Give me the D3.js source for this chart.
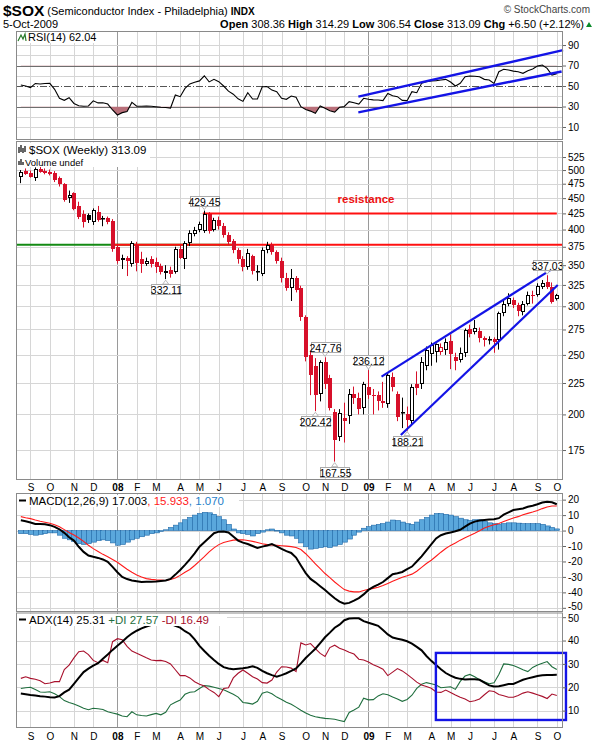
<!DOCTYPE html>
<html><head><meta charset="utf-8">
<script src="https://cdn.jsdelivr.net/npm/d3@7"></script>
<style>
body{margin:0;background:#fff}
svg{display:block}
text{font-family:"Liberation Sans",Arial,sans-serif}
</style>
</head><body>
<svg id="c" width="600" height="745"></svg>
<script>
// ---------------- DATA ----------------
const firstWeek = "2007-08-20";
const opens = [488,498,494,485,502,499,497,495,485,474,
 450,458,437,424,422,412,428,416,418,413,
 374,357,360,352,378,358,352,358,354,349,
 340,344,341,372,358,380,393,400,398,424,
 400,415,406,392,383,370,358,347,362,341,
 339,370,378,368,356,333,321,333,321,288,
 250,240,216,243,229,202,184,197,199,216,
 213,205,222,215,215,210,208,230,216,201,
 200,195,224,224,240,251,253,253,255,263,
 248,245,252,276,272,273,266,264,265,264,
 292,303,307,301,294,303,313,313,322,328,
 323,308.36];
const highs = [500,503,499,505,506,503,501,498,488,476,
 463,460,444,430,425,433,437,421,420,416,
 378,364,362,383,382,368,360,362,360,352,
 350,348,375,378,383,399,404,412,429.45,427,
 418,420,410,396,386,373,362,372,364,350,
 374,382,381,370,360,340,345,336,324,290,
 254,247,245,247.76,232,204,204,209,220,222,
 217,226,236.12,220,218,226,234,234,218,213,
 206,224,235,248,258,262,261,261,266,270,
 252,257,276,280,285,277,268,268,267,294,
 308,315,310,304,306,317,318,327,331,337.03,
 328,314.29];
const lows = [476,491,486,480,495,492,490,478,470,444,
 442,430,416,403,410,407,412,405,408,368,
 352,345,336,348,342,340,349,347,340,338,
 332.11,334,339,358,345,376,390,396,395,394,
 397,400,388,378,366,352,342,344,338,330,
 336,366,364,352,328,318,306,316,284,244,
 215,202.42,210,220,203,167.55,181,180,193,208,
 200,200,212,200,203,205,205,218,195,190,
 188.21,192,215,220,236,240,243,250,250,237,
 236,243,248,267,270,262,258,260,252,255,
 289,300,298,289,290,301,303,311,320,320,
 303,306.54];
const closes = [496,493,488,502,497,495,493,482,475,447,
 456,432,420,412,415,430,414,418,411,372,
 356,360,356,380,353,352,356,351,347,341,
 342,339,372,360,380,395,400,408,424,398,
 415,405,392,382,370,358,348,367,342,343,
 370,378,368,356,333,321,333,319,288,248,
 232,215,243,224,205,182,201,195,216,213,
 204,224,215,214,210,209,232,222,198,202,
 196,222,221,243,255,259,260,258,262,251,
 244,252,274,270,277,266,264,265,262,292,
 303,309,301,295,303,313,312,324,327,323,
 305,313.09];

const rsi = [51,50,48.5,52.5,52,52.5,52.6,46.8,38,36,
 38.6,33,30.8,30.2,30.5,35.5,33.5,33.7,32.4,26.6,
 21.7,24,25,34,30.2,30.3,30.5,30.2,29.8,29.3,
 29,28.5,41.2,39.6,47.7,52,53.6,55,60,54,
 56.5,54.2,50,45,42,37.5,35,43.5,37.3,37.3,
 49.3,49.5,46,44.5,38,37,40.2,39,29.8,27,
 25.5,23.3,30.5,28.2,25.9,24.6,29.2,30,34.7,33.7,
 32.4,38,37,36.5,36.3,35.7,42.8,40.5,39.6,36,
 35.7,44.5,43.5,52.6,54.2,55,55.2,55.9,56.5,53.9,
 50,52.6,59.1,59.8,59.5,59.1,56.5,55.9,52.6,64,
 66.3,65.6,64.5,64,62.4,64.9,66.6,69.5,70.5,67.2,
 60.7,62.04];

const macd = [6.6,6.0,5.2,4.3,4.2,4.1,3.5,2.4,0.8,-1.5,
 -4.3,-6.5,-10.5,-13.8,-16.2,-17,-17.7,-18.7,-20.2,-23.5,
 -27,-30,-31.4,-32.3,-32.8,-33.3,-33.2,-33.1,-32.9,-32.6,
 -32.3,-31.3,-28.5,-25.5,-22.2,-18.6,-14.8,-10.5,-7.6,-4.6,
 -1.7,-0.7,-0.6,-1.2,-3.8,-6.5,-7.8,-8.7,-10,-11.3,
 -10.4,-9.7,-8.8,-10.2,-11.8,-13.3,-14.5,-17.5,-22.6,-27.5,
 -31.3,-33.5,-36,-38.5,-41.2,-43.8,-46,-47.3,-46.8,-45.4,
 -43.7,-41.3,-38.4,-36.5,-35,-33.3,-30.8,-28.3,-27.6,-26.8,
 -25,-23.3,-20,-16.7,-12.8,-9,-5.1,-3,-1.9,-1.2,
 -0.5,0.5,2.5,4.5,5.8,6.5,6.9,7.1,7.3,8,
 10.3,11.8,13.3,13.8,14.3,15.4,16.1,17,18.1,18.7,
 18.3,17.003];
const macdSignal = [9.0,8.3,7.7,6.8,6.0,5.4,4.7,3.8,2.5,0.6,
 -1.3,-2.9,-4.8,-7,-9.5,-11.7,-13.5,-15.4,-16.9,-18.7,
 -20.5,-22.8,-25,-27,-28.7,-30,-31.1,-31.6,-31.9,-32.1,
 -32.3,-31.7,-30.7,-29,-27,-25.2,-22.6,-19.8,-16.9,-13.8,
 -11.2,-9.1,-7.7,-6.9,-6.2,-6,-6,-6.4,-7,-7.7,
 -8.5,-9.1,-9.3,-9.5,-9.8,-10.1,-10.4,-11,-12.3,-15,
 -18.2,-21.5,-24.7,-27.8,-30.5,-33.3,-35.8,-38.2,-39.2,-39.7,
 -39.7,-38.8,-38,-37.4,-36.7,-35.6,-34.2,-32.8,-31.5,-30.2,
 -29.3,-28.2,-26.3,-23.8,-21.3,-19.2,-16.6,-14,-11.6,-9.6,
 -8,-6.2,-4.6,-3.2,-1.7,-0.1,1.6,2.8,3.8,4.6,
 5.8,7,8.1,9,10.2,11.1,12,13,14.2,15.3,
 15.9,15.933];
const macdHist = [-2,-2,-2.5,-3,-2.5,-2,-1.5,-1.5,-3,-5,
 -6,-7,-8.5,-9,-8.5,-7.5,-6.5,-6,-6.5,-8,
 -9.5,-9,-7.5,-6,-5,-4,-3,-2,-1.5,-0.5,
 0.5,2,3.5,5,7,8.5,10,11,11.8,11.5,
 10.5,9,7,4,1,-1.5,-2,-2.5,-3.5,-2,
 -1,0.5,1,0,-1.5,-3,-3.5,-5,-8,-10.5,
 -12,-11.5,-11,-10.5,-11,-10,-9,-7.5,-5.5,-3,
 -1,1.5,2.5,3.5,4,4.5,5.5,6.8,6.5,5.5,
 4.5,4,5.5,7,8.5,10,11,11,10.5,10,
 9,8,7,6.5,7,7,6,5,4.5,4,
 4.5,5,5,4.8,4.5,4.5,4.5,4.5,4,3,
 2,1.07];

const adx = [17.3,17,16.7,16.5,16.2,16,15.7,15.6,16.2,17.8,
 19,21.5,24,26.5,28,29.3,30.3,32.2,34,36,
 37.8,39.5,41.4,43,44.2,45.2,46,46.6,47.1,47.3,
 47.4,47.2,46.3,45.5,44,42.8,40.5,37.7,35.5,33.5,
 31.7,30,28.6,28,27.7,27.9,28.1,28.5,29,28.3,
 27,26,25.2,24.5,25.2,26,27,28.1,30.2,32.5,
 34.5,36.5,38.9,41.4,43.4,45.5,46.8,48.7,49.4,49.5,
 49.5,48.3,47.6,47,46.3,44.5,42.6,41.3,40.8,40.3,
 39.7,38.7,37.3,35.8,33.4,31.3,29.5,27.7,26.1,25,
 24.1,23.6,23.3,23.4,23.4,23.2,22,20.8,20.3,20.4,
 20.9,21.4,21.4,22.3,23.2,23.8,24.3,24.8,25.1,25.3,
 25.3,25.31];
const plusDI = [19.5,19.8,20,19,18,17.9,18.1,17.2,16,14.3,
 13.5,12.8,12,11,10.4,11,10.8,10.5,9.5,9,
 8.5,7.7,7.4,9.5,8.2,7.9,7.7,8.3,8.8,8.2,
 9.3,12.5,13.6,14.5,17,17.9,18.1,19.5,20.7,20.5,
 20,19.5,18.9,18,17,15.8,13.5,13.2,12.8,14,
 17.5,18.1,17.2,15.8,14.8,13.6,12.7,11.5,10.2,9,
 8,7.4,7,6.7,6.5,6.3,5.8,5.3,9.2,10.3,
 11.5,15.3,14.6,14.7,16.3,17.2,16.8,15.8,15,14,
 14.8,16.6,19.5,21.3,22,21.5,21,19.8,20,20.2,
 19.1,22.5,24.8,25.5,24.5,23.2,22.4,21.5,21.9,25.5,
 30,29.8,29.3,28.5,27.5,26.7,28.5,29.5,30.3,31,
 28.8,27.57];
const minusDI = [23.8,24.5,23.8,23.4,22.8,21.5,21.8,22.4,22.4,27.6,
 29.5,32.6,35.2,35.5,34,31.5,30.5,31.5,30.5,39.5,
 40.8,40.3,37.5,35.5,34.6,33.6,32.6,31.7,31.4,31.5,
 31,30,27.5,25,25,24,22.4,21.3,20.5,19,
 17.8,16,19.5,19.8,24,26,27.4,26,24.5,23.5,
 22,21.8,23.1,26.5,28.8,28.7,28.2,26.7,39,38.1,
 38.7,36.5,34.5,33.2,37,38,36.7,36,35,34.2,
 32,31.7,30.8,29.6,28.8,27.7,25,26.5,28,27,
 25.5,23.9,22.2,21,20.3,19.6,18,17.8,18.8,17.8,
 16.7,15.7,15,13.8,14.2,15,16.8,18.5,18.2,16.9,
 16.4,15.7,15.7,16.5,17.5,18.1,17.5,16.8,16.1,15.2,
 17.1,16.49];

const priceTicks = [175,200,225,250,275,300,325,350,375,400,425,450,475,500,525];
const rsiTicks = [10,30,50,70,90];
const rsiGrid = [10,20,40,60,80,90];
const macdTicks = [20,10,0,-10,-20,-30,-40,-50];
const adxTicks = [10,20,30,40,50];
const monthLetters = ["J","F","M","A","M","J","J","A","S","O","N","D"];

// annotated extremes: week index, value, side
const extremeWeeks = [38,30,63,61,65,72,80,109];
const extremeValues = [429.45,332.11,247.76,202.42,167.55,236.12,188.21,337.03];
const extremeSides = ["high","low","high","low","low","high","low","high"];

// trend lines: [weekIndex, value] pairs
const priceChannelUpper = [[74.7,230.4],[110.8,348]];
const priceChannelLower = [[78.7,185.1],[111.2,324.9]];
const rsiChannelUpper = [[69.9,39.6],[112.3,85]];
const rsiChannelLower = [[69.9,24.3],[112,64.2]];
const resistanceHigh = [[37.7,425],[111,425]];
const resistanceLow = [[18.6,378],[112.3,378]];
const supportGreen = [[-1,378],[43.7,378]];
const adxBox = [[85.96,34.7],[112.9,6]];

// ---------------- LAYOUT ----------------
const L = 16, R = 563;
const P = {rsi:[31,140], price:[141,480], macd:[493,612], adx:[612.5,728]};
const RED = "#d7102a", BLUE = "#1414e6";
const DAY = 864e5;
const t0 = Date.parse(firstWeek + "T00:00:00Z");
const dateAt = i => new Date(t0 + i*7*DAY);
const dates = closes.map((_,i)=>dateAt(i));

const x = d3.scaleUtc().domain([new Date(Date.UTC(2007,7,13)), new Date(Date.UTC(2009,9,14))]).range([L,R]);
const xi = i => x(dateAt(i));
const yP = d3.scaleLog().domain([156.4,557.5]).range([P.price[1],P.price[0]]);
const yR = d3.scaleLinear().domain([-2.7,103.7]).range([P.rsi[1],P.rsi[0]]);
const yM = d3.scaleLinear().domain([-52.7,24.3]).range([P.macd[1],P.macd[0]]);
const yA = d3.scaleLinear().domain([2.57,52]).range([P.adx[1],P.adx[0]]);

const svg = d3.select("#c");
svg.append("rect").attr("width",600).attr("height",745).attr("fill","#fff");

const monthTicks = [];
for (let i=1;i<dates.length;i++) if (dates[i].getUTCMonth()!==dates[i-1].getUTCMonth()) monthTicks.push(dates[i]);

const defs = svg.append("defs");
function clip(id, band){
  defs.append("clipPath").attr("id",id).append("rect")
    .attr("x",L).attr("y",band[0]).attr("width",R-L).attr("height",band[1]-band[0]);
}
clip("cR",P.rsi); clip("cP",P.price); clip("cM",P.macd); clip("cA",P.adx);

function panelGrid(band, ys, gridVals){
  const g = svg.append("g");
  g.selectAll(".v").data(monthTicks).join("line")
    .attr("x1",d=>Math.round(x(d))+0.5).attr("x2",d=>Math.round(x(d))+0.5)
    .attr("y1",band[0]).attr("y2",band[1])
    .attr("stroke",d=>d.getUTCMonth()===0?"#9a9a9a":"#d6d6d6").attr("stroke-width",1);
  g.selectAll(".h").data(gridVals).join("line")
    .attr("x1",L).attr("x2",R)
    .attr("y1",d=>Math.round(ys(d))+0.5).attr("y2",d=>Math.round(ys(d))+0.5)
    .attr("stroke","#d6d6d6");
  return g;
}
function panelFrame(band, ys, ticks, nudge){
  const g = svg.append("g");
  g.append("rect").attr("x",L+0.5).attr("y",band[0]+0.5).attr("width",R-L-1).attr("height",band[1]-band[0]-1)
    .attr("fill","none").attr("stroke","#8a8a8a");
  const ax = d3.axisRight(ys).tickValues(ticks).tickSize(3).tickPadding(2).tickFormat(d=>d);
  const a = g.append("g").attr("transform",`translate(${R},0)`).call(ax);
  a.select(".domain").remove();
  a.selectAll("line").attr("stroke","#666");
  a.selectAll("text").attr("font-size",10).attr("fill","#000")
    .attr("font-family","'Liberation Sans',Arial,sans-serif");
  if (nudge) a.selectAll(".tick").filter(d=>d===nudge.value).select("text").attr("y",nudge.dy);
}
function monthAxis(yTop){
  const g = svg.append("g");
  g.selectAll("text").data(monthTicks).join("text")
    .attr("x",d=>x(d)+0.5).attr("y",yTop)
    .attr("text-anchor","middle").attr("font-size",10)
    .attr("font-weight",d=>d.getUTCMonth()===0?"bold":"normal")
    .text(d=>d.getUTCMonth()===0?String(d.getUTCFullYear()).slice(2):monthLetters[d.getUTCMonth()]);
}

// ---------------- HEADER ----------------
const hd = svg.append("g");
const sym = hd.append("text").attr("x",3).attr("y",16).attr("font-size",15.5).attr("font-weight","bold").text("$SOX");
const symW = sym.node().getComputedTextLength();
hd.append("text").attr("x",3+symW+3).attr("y",15).attr("font-size",11)
  .html('(Semiconductor Index - Philadelphia) <tspan font-weight="bold" font-size="10">INDX</tspan>');
hd.append("text").attr("x",590).attr("y",13).attr("text-anchor","end").attr("font-size",10).attr("fill","#444")
  .text("\u00a9 StockCharts.com");
hd.append("text").attr("x",3).attr("y",28).attr("font-size",11).text("5-Oct-2009");
hd.append("text").attr("x",584).attr("y",28).attr("text-anchor","end").attr("font-size",11)
  .html('<tspan font-weight="bold">Open</tspan> 308.36 <tspan font-weight="bold">High</tspan> 314.29 <tspan font-weight="bold">Low</tspan> 306.54 <tspan font-weight="bold">Close</tspan> 313.09 <tspan font-weight="bold">Chg</tspan> +6.50 (+2.12%)');
hd.append("path").attr("d","M586,27 L592,27 L589,22 Z").attr("fill","#0a8a2a");

// ---------------- RSI ----------------
panelGrid(P.rsi, yR, rsiGrid);
const gR = svg.append("g").attr("clip-path","url(#cR)");
gR.append("line").attr("x1",L).attr("x2",R).attr("y1",Math.round(yR(70))+0.5).attr("y2",Math.round(yR(70))+0.5).attr("stroke","#6e6e6e");
gR.append("line").attr("x1",L).attr("x2",R).attr("y1",Math.round(yR(30))+0.5).attr("y2",Math.round(yR(30))+0.5).attr("stroke","#6e6e6e");
gR.append("line").attr("x1",L).attr("x2",R).attr("y1",Math.round(yR(50))+0.5).attr("y2",Math.round(yR(50))+0.5)
  .attr("stroke","#555").attr("stroke-dasharray","7,2,1,2");
defs.append("clipPath").attr("id","below30").append("rect").attr("x",L).attr("width",R-L)
  .attr("y",yR(30)).attr("height",P.rsi[1]-yR(30));
defs.append("clipPath").attr("id","above70").append("rect").attr("x",L).attr("width",R-L)
  .attr("y",P.rsi[0]).attr("height",yR(70)-P.rsi[0]);
const rsiArea30 = d3.area().x((d,i)=>xi(i)).y0(yR(30)).y1(d=>yR(d));
const rsiArea70 = d3.area().x((d,i)=>xi(i)).y0(yR(70)).y1(d=>yR(d));
gR.append("g").attr("clip-path","url(#below30)").append("path").attr("d",rsiArea30(rsi)).attr("fill","#b9707a");
gR.append("g").attr("clip-path","url(#above70)").append("path").attr("d",rsiArea70(rsi)).attr("fill","#b9707a");
gR.append("path").attr("d",d3.line().x((d,i)=>xi(i)).y(d=>yR(d))(rsi)).attr("fill","none").attr("stroke","#000").attr("stroke-width",1.1);
const tl = (arr, ys) => d3.line().x(d=>xi(d[0])).y(d=>ys(d[1]))(arr);
svg.append("path").attr("d",tl(rsiChannelUpper,yR)).attr("stroke",BLUE).attr("stroke-width",2.4).attr("fill","none");
svg.append("path").attr("d",tl(rsiChannelLower,yR)).attr("stroke",BLUE).attr("stroke-width",2.4).attr("fill","none");
panelFrame(P.rsi, yR, rsiTicks);
const rl = svg.append("g");
rl.append("rect").attr("x",17).attr("y",32).attr("width",80).attr("height",11).attr("fill","#fff");
rl.append("path").attr("d","M18,41 L21,35 L23,39 L25,34 L26,41").attr("fill","none").attr("stroke","#2a7a2a").attr("stroke-width",1.2);
rl.append("text").attr("x",28).attr("y",41).attr("font-size",11).text("RSI(14) 62.04");

// ---------------- PRICE ----------------
panelGrid(P.price, yP, priceTicks);
const gP = svg.append("g").attr("clip-path","url(#cP)");
gP.append("path").attr("d",tl(supportGreen,yP)).attr("stroke","#138a13").attr("stroke-width",2).attr("fill","none");
gP.append("path").attr("d",tl(resistanceLow,yP)).attr("stroke","#ff1010").attr("stroke-width",2).attr("fill","none");
gP.append("path").attr("d",tl(resistanceHigh,yP)).attr("stroke","#ff1010").attr("stroke-width",2).attr("fill","none");
const cg = gP.append("g");
closes.forEach((c,i)=>{
  const o = opens[i], h = highs[i], l = lows[i];
  const col = (i>0 && c < closes[i-1]) ? RED : "#000";
  const rx = Math.floor(xi(i));
  cg.append("line").attr("x1",rx+0.5).attr("x2",rx+0.5).attr("y1",yP(h)).attr("y2",yP(l)).attr("stroke",col).attr("stroke-width",1);
  const yt = Math.round(yP(Math.max(o,c))), yb = Math.round(yP(Math.min(o,c)));
  const hgt = Math.max(1, yb-yt);
  if (c < o) {
    cg.append("rect").attr("x",rx-1).attr("y",yt).attr("width",4).attr("height",hgt).attr("fill",col);
  } else {
    cg.append("rect").attr("x",rx-0.5).attr("y",yt+0.5).attr("width",3).attr("height",Math.max(0.5,hgt-1))
      .attr("fill","#fff").attr("stroke",col).attr("stroke-width",1);
  }
});
svg.append("path").attr("d",tl(priceChannelUpper,yP)).attr("stroke",BLUE).attr("stroke-width",2.2).attr("fill","none");
svg.append("path").attr("d",tl(priceChannelLower,yP)).attr("stroke",BLUE).attr("stroke-width",2.2).attr("fill","none");
extremeWeeks.forEach((w,k)=>{
  const v = extremeValues[k], side = extremeSides[k];
  const cx = xi(w), py = yP(v);
  const txt = v.toFixed(2);
  const bw = 29, bh = 10;
  const g = svg.append("g");
  let by, tri;
  if (side==="high"){ by = py-5-bh; tri = `M${cx-3},${by+bh} L${cx+3},${by+bh} L${cx},${py-1} Z`; }
  else { by = py+5; tri = `M${cx-3},${by} L${cx+3},${by} L${cx},${py+1} Z`; }
  g.append("path").attr("d",tri).attr("fill","#fff").attr("stroke","#aaa").attr("stroke-width",0.8);
  g.append("rect").attr("x",Math.round(cx-bw/2)+0.5).attr("y",Math.round(by)+0.5).attr("width",bw).attr("height",bh)
    .attr("fill","#fff").attr("stroke","#aaa");
  g.append("text").attr("x",Math.round(cx)+0.5).attr("y",Math.round(by)+bh-0.5).attr("text-anchor","middle")
    .attr("font-size",10.5).text(txt);
});
svg.append("text").attr("x",366).attr("y",203).attr("text-anchor","middle").attr("font-size",11.5)
  .attr("font-weight","bold").attr("fill","#ee1111").text("resistance");
panelFrame(P.price, yP, priceTicks);
const pl = svg.append("g");
pl.append("rect").attr("x",17).attr("y",143).attr("width",133).attr("height",24).attr("fill","#fff");
pl.append("path").attr("d","M19,153 L19,147 M21,152 L21,145 M23,153 L23,148 M25,152 L25,146").attr("stroke","#000").attr("stroke-width",1.2);
pl.append("text").attr("x",29).attr("y",154).attr("font-size",11.5).text("$SOX (Weekly) 313.09");
pl.append("path").attr("d","M19,165 L19,161 M21,165 L21,159 M23,165 L23,162").attr("stroke","#000").attr("stroke-width",1.2);
pl.append("text").attr("x",25).attr("y",165.5).attr("font-size",9.5).text("Volume undef");
monthAxis(491);

// ---------------- MACD ----------------
panelGrid(P.macd, yM, macdTicks);
const gM = svg.append("g").attr("clip-path","url(#cM)");
macdHist.forEach((h,i)=>{
  const rx = Math.floor(xi(i));
  const y0 = yM(0), y1 = yM(h);
  gM.append("rect").attr("x",rx-1.5).attr("y",Math.min(y0,y1)).attr("width",5).attr("height",Math.max(0.5,Math.abs(y1-y0)))
    .attr("fill","#5aa7dc").attr("stroke","#2069a8").attr("stroke-width",0.6);
});
gM.append("path").attr("d",d3.line().x((d,i)=>xi(i)).y(d=>yM(d))(macdSignal)).attr("fill","none").attr("stroke","#ff1a1a").attr("stroke-width",1.1);
gM.append("path").attr("d",d3.line().x((d,i)=>xi(i)).y(d=>yM(d))(macd)).attr("fill","none").attr("stroke","#000").attr("stroke-width",2);
panelFrame(P.macd, yM, macdTicks, {value:-50, dy:-1.2});
const ml = svg.append("g");
ml.append("rect").attr("x",17).attr("y",495).attr("width",222).attr("height",12).attr("fill","#fff");
ml.append("line").attr("x1",19).attr("x2",26).attr("y1",500.5).attr("y2",500.5).attr("stroke","#000").attr("stroke-width",2);
ml.append("text").attr("x",29).attr("y",505).attr("font-size",11.5)
  .html('MACD(12,26,9) 17.003<tspan fill="#ff1a1a">, 15.933</tspan><tspan fill="#1f80c8">, 1.070</tspan>');

// ---------------- ADX ----------------
panelGrid(P.adx, yA, adxTicks);
const gA = svg.append("g").attr("clip-path","url(#cA)");
const lineA = d3.line().x((d,i)=>xi(i)).y(d=>yA(d));
gA.append("path").attr("d",lineA(plusDI)).attr("fill","none").attr("stroke","#1f6e3e").attr("stroke-width",1.1);
gA.append("path").attr("d",lineA(minusDI)).attr("fill","none").attr("stroke","#a8102c").attr("stroke-width",1.1);
gA.append("path").attr("d",lineA(adx)).attr("fill","none").attr("stroke","#000").attr("stroke-width",2);
svg.append("rect").attr("x",xi(adxBox[0][0])).attr("y",yA(adxBox[0][1]))
  .attr("width",xi(adxBox[1][0])-xi(adxBox[0][0])).attr("height",yA(adxBox[1][1])-yA(adxBox[0][1]))
  .attr("fill","none").attr("stroke",BLUE).attr("stroke-width",2.4);
panelFrame(P.adx, yA, adxTicks, {value:50, dy:1.5});
const al = svg.append("g");
al.append("rect").attr("x",17).attr("y",614).attr("width",210).attr("height",12).attr("fill","#fff");
al.append("line").attr("x1",19).attr("x2",26).attr("y1",619.5).attr("y2",619.5).attr("stroke","#000").attr("stroke-width",2);
al.append("text").attr("x",29).attr("y",624).attr("font-size",11.5)
  .html('ADX(14) 25.31 <tspan fill="#1f6e3e">+DI 27.57</tspan> <tspan fill="#a8102c">-DI 16.49</tspan>');
monthAxis(740);
</script>
</body></html>
